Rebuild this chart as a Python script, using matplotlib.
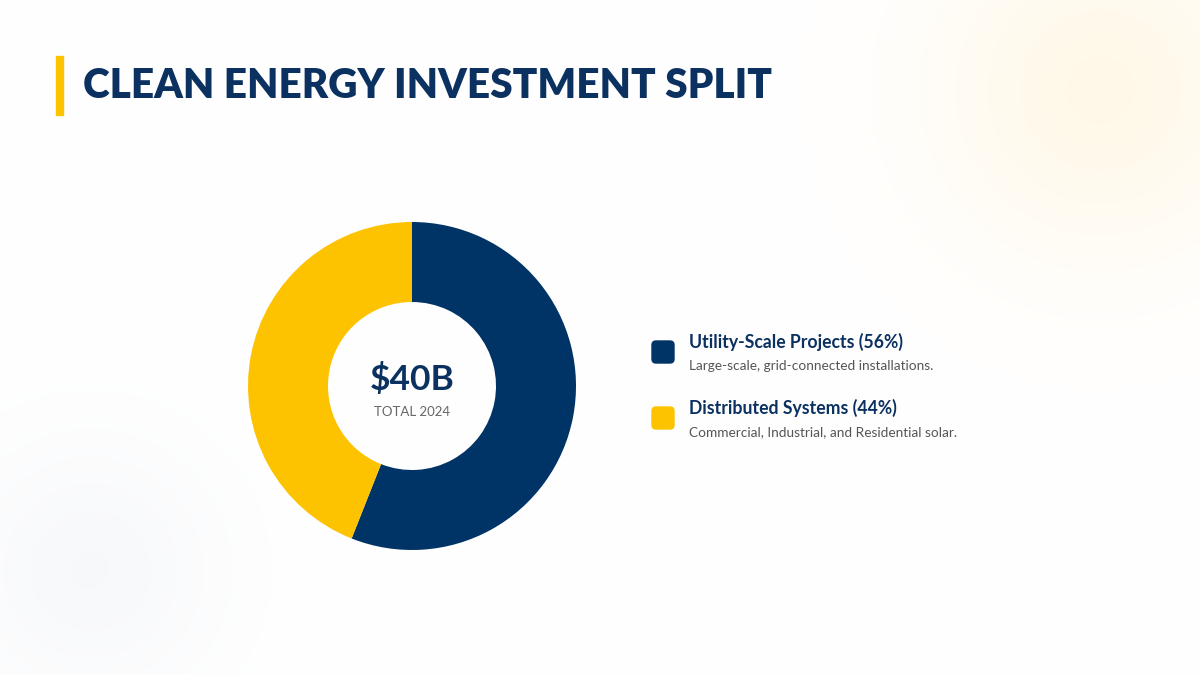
import matplotlib.pyplot as plt
import numpy as np
from matplotlib.patches import FancyBboxPatch, Rectangle

# ---- data -------------------------------------------------------------------
labels = ["Utility-Scale Projects", "Distributed Systems"]
shares = [56, 44]
descriptions = ["Large-scale, grid-connected installations.",
                "Commercial, Industrial, and Residential solar."]
colors = ["#003366", "#FDC300"]
total_label = "$40B"
total_sub = "TOTAL 2024"
title = "CLEAN ENERGY INVESTMENT SPLIT"

NAVY = "#0B3160"
W, H = 1200, 675

fig = plt.figure(figsize=(12, 6.75), dpi=100)
fig.patch.set_facecolor("white")

# faint background glows
bg = fig.add_axes([0, 0, 1, 1])
bg.set_xlim(0, W)
bg.set_ylim(H, 0)
bg.axis("off")
xx, yy = np.meshgrid(np.arange(W), np.arange(H))
img = np.ones((H, W, 3))
g1 = np.exp(-(((xx - 1100) ** 2 + (yy - 90) ** 2) / (2 * 120 ** 2)))
g2 = np.exp(-(((xx - 90) ** 2 + (yy - 570) ** 2) / (2 * 95 ** 2)))
yel = np.array([1.0, 0.93, 0.75])
gry = np.array([0.93, 0.94, 0.96])
for c in range(3):
    img[..., c] = img[..., c] * (1 - 0.35 * g1) + yel[c] * 0.35 * g1
    img[..., c] = img[..., c] * (1 - 0.4 * g2) + gry[c] * 0.4 * g2
bg.imshow(img, extent=[0, W, H, 0], aspect="auto", zorder=0)

# title bar + title
bg.add_patch(Rectangle((56, 56), 7, 59, color="#FDC300", zorder=2))
bg.text(83, 86, title, fontsize=29.2, fontweight="heavy", family="Lato",
        color=NAVY, va="center", ha="left", zorder=3)

# donut
cx, cy, r = 412, 386, 164
ax = fig.add_axes([(cx - r) / W, (H - cy - r) / H, 2 * r / W, 2 * r / H])
ax.pie(shares, colors=colors, startangle=90, counterclock=False,
       wedgeprops=dict(width=80 / 164, edgecolor="none"), radius=1)
ax.set_aspect("equal")
ax.set_xlim(-1, 1)
ax.set_ylim(-1, 1)
ax.text(0, 0.04, total_label, ha="center", va="center", fontsize=25.5,
        fontweight="bold", family="Lato", color=NAVY)
ax.text(0, -0.16, total_sub, ha="center", va="center", fontsize=9.5,
        family="Lato", color="#666666")

# legend
rows_y = [352, 418]
for lab, s, d, col, y in zip(labels, shares, descriptions, colors, rows_y):
    bg.add_patch(FancyBboxPatch((652, y - 11), 22, 22,
                                boxstyle="round,pad=0,rounding_size=4",
                                color=col, zorder=3))
    bg.text(689, y - 10, f"{lab} ({s}%)", fontsize=12.7, fontweight="bold",
            family="Lato", color=NAVY, va="center", ha="left", zorder=3)
    bg.text(689, y + 14, d, fontsize=9.8, family="Lato", color="#555555",
            va="center", ha="left", zorder=3)

fig.savefig("out.png", dpi=100)
